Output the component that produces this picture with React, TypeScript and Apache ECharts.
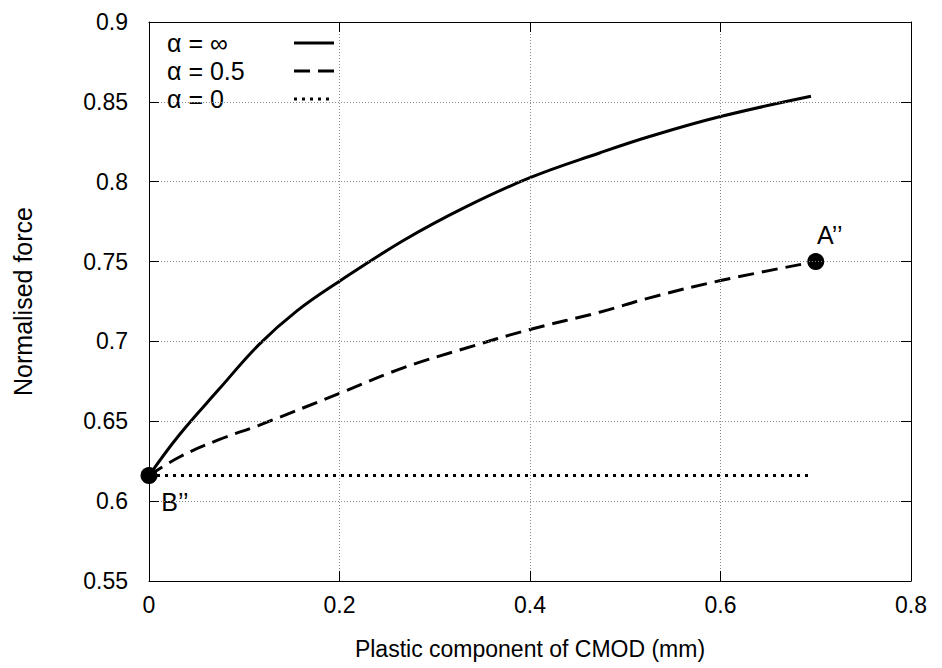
import React, { useEffect, useRef } from "react";
import * as echarts from "echarts";

const seriesNames = ["α = ∞", "α = 0.5", "α = 0"];

const infX = [0, 0.0315, 0.0734, 0.1154, 0.155, 0.2, 0.2675, 0.3305, 0.4, 0.473, 0.5255, 0.6, 0.695];
const infY = [0.616, 0.6413, 0.67, 0.698, 0.719, 0.7377, 0.7633, 0.7836, 0.8025, 0.818, 0.8283, 0.8408, 0.8535];

const halfX = [0, 0.0315, 0.0734, 0.1154, 0.2, 0.2675, 0.3305, 0.4, 0.473, 0.5255, 0.6, 0.7];
const halfY = [0.616, 0.6275, 0.6385, 0.6475, 0.6675, 0.6836, 0.6954, 0.7075, 0.7183, 0.7273, 0.7381, 0.75];

const zeroX = [0, 0.695];
const zeroY = [0.616, 0.616];

const pointNames = ["B\u2019\u2019", "A\u2019\u2019"];
const pointX = [0, 0.7];
const pointY = [0.616, 0.75];

const xTicks = { min: 0, max: 0.8, interval: 0.2 };
const yTicks = { min: 0.55, max: 0.9, interval: 0.05 };

const FONT = "Arial";
const dashes: (number[] | string)[] = ["solid", [16, 8], [3, 5]];

export default function App() {
  const ref = useRef<HTMLDivElement>(null);
  useEffect(() => {
    if (!ref.current) return;
    const chart = echarts.init(ref.current, null, { renderer: "svg" });
    const fmt = (v: number) => String(Math.round(v * 100) / 100);
    const zip = (xs: number[], ys: number[]) => xs.map((x, i) => [x, ys[i]]);
    const txt = (s: number) => ({ fontSize: s, color: "#000", fontFamily: FONT });
    const legendRows = seriesNames.map((n, i) => ({
      type: "group",
      y: 43 + i * 28,
      children: [
        { type: "text", x: 167, y: 0, style: { text: n, fill: "#000", font: "25px Arial", verticalAlign: "middle" } },
        {
          type: "line",
          shape: { x1: 294, y1: 0, x2: 334, y2: 0 },
          style: { stroke: "#000", lineWidth: 3, lineDash: dashes[i] === "solid" ? null : dashes[i] },
        },
      ],
    }));
    chart.setOption({
      animation: false,
      backgroundColor: "#fff",
      grid: { left: 149, right: 31, top: 22, bottom: 87, containLabel: false },
      graphic: [
        {
          type: "group",
          z: 10,
          children: [
            { type: "rect", shape: { x: 150, y: 23, width: 195, height: 85 }, style: { fill: "#fff" } },
            ...legendRows,
          ],
        },
      ],
      xAxis: [
        {
          type: "value",
          min: xTicks.min,
          max: xTicks.max,
          interval: xTicks.interval,
          name: "Plastic component of CMOD (mm)",
          nameLocation: "middle",
          nameGap: 56,
          nameTextStyle: txt(23),
          axisLine: { onZero: false, lineStyle: { color: "#000", width: 1 } },
          axisTick: { inside: true, length: 10, lineStyle: { color: "#000" } },
          axisLabel: { ...txt(23), margin: 12, formatter: fmt },
          splitLine: { show: true, lineStyle: { color: "#888", width: 1, type: [1, 2] } },
          z: 12,
        },
        {
          type: "value",
          position: "top",
          min: xTicks.min,
          max: xTicks.max,
          interval: xTicks.interval,
          axisLine: { onZero: false, lineStyle: { color: "#000", width: 1 } },
          axisTick: { inside: true, length: 10, lineStyle: { color: "#000" } },
          axisLabel: { show: false },
          splitLine: { show: false },
          z: 12,
        },
      ],
      yAxis: [
        {
          type: "value",
          min: yTicks.min,
          max: yTicks.max,
          interval: yTicks.interval,
          name: "Normalised force",
          nameLocation: "middle",
          nameGap: 114,
          nameTextStyle: txt(25),
          axisLine: { onZero: false, lineStyle: { color: "#000", width: 1 } },
          axisTick: { inside: true, length: 10, lineStyle: { color: "#000" } },
          axisLabel: { ...txt(23), margin: 21, formatter: fmt },
          splitLine: { show: true, lineStyle: { color: "#888", width: 1, type: [1, 2] } },
          z: 12,
        },
        {
          type: "value",
          position: "right",
          min: yTicks.min,
          max: yTicks.max,
          interval: yTicks.interval,
          axisLine: { onZero: false, lineStyle: { color: "#000", width: 1 } },
          axisTick: { inside: true, length: 10, lineStyle: { color: "#000" } },
          axisLabel: { show: false },
          splitLine: { show: false },
          z: 12,
        },
      ],
      series: [
        {
          type: "line",
          name: seriesNames[0],
          data: zip(infX, infY),
          symbol: "none",
          smooth: 0.4,
          lineStyle: { color: "#000", width: 3, type: "solid" },
        },
        {
          type: "line",
          name: seriesNames[1],
          data: zip(halfX, halfY),
          symbol: "none",
          smooth: 0.4,
          lineStyle: { color: "#000", width: 3, type: [16, 8] },
        },
        {
          type: "line",
          name: seriesNames[2],
          data: zip(zeroX, zeroY),
          symbol: "none",
          lineStyle: { color: "#000", width: 3, type: [3, 5] },
        },
        {
          type: "scatter",
          name: "points",
          symbolSize: 17,
          z: 4,
          clip: false,
          itemStyle: { color: "#000", opacity: 1 },
          label: { show: true, position: "inside", formatter: "{b}", ...txt(25) },
          data: [
            { name: pointNames[0], value: [pointX[0], pointY[0]], label: { offset: [26, 26] } },
            { name: pointNames[1], value: [pointX[1], pointY[1]], label: { offset: [14, -27] } },
          ],
        },
      ],
    });
    return () => chart.dispose();
  }, []);
  return <div ref={ref} style={{ position: "fixed", left: 0, top: 0, width: 942, height: 668 }} />;
}
